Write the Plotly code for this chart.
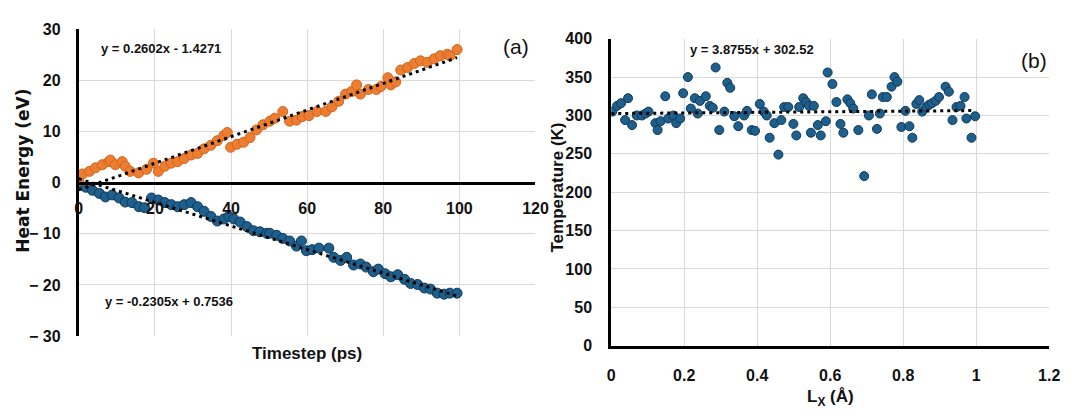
import plotly.graph_objects as go

# ---------------- data: panel (a) ----------------
orange_x = [0, 1, 2.8, 4.4, 6.2, 7.9, 8.3, 9.6, 11.4, 12.2, 13.5, 15.7, 17.8, 19.6, 20.9, 22.6, 24.3, 26,
            27.7, 29.5, 31.2, 32.9, 34.7, 36.4, 38.1, 39, 39.9, 41.6, 43.3, 45, 46.7, 48.4, 50.2, 51.5,
            53.6, 55.4, 57.2, 58.7, 60.5, 62.6, 64.9, 66.5, 68.3, 70.1, 71.7, 73, 74, 76.1, 78.2, 79.4,
            81.2, 82, 83.3, 84.6, 86.4, 88.2, 89.8, 91.6, 93.4, 95, 96.8, 97.5, 99.4]
orange_y = [0.4, 1.7, 2.2, 2.9, 3.5, 4.1, 4.4, 3.5, 4.1, 3.2, 2.2, 1.9, 2.6, 3.8, 2.2, 3.2, 3.8, 4.1,
            4.7, 5.4, 5.7, 6.6, 7.3, 8.2, 9.2, 9.8, 6.9, 7.5, 7.9, 8.8, 10.3, 11.3, 12, 12.6,
            13.9, 12, 12.2, 12.9, 13.1, 13.9, 13.9, 14.8, 15.9, 17.3, 17.8, 19.1, 17.3, 18.2, 18.2, 18.8,
            20.5, 19.1, 19.7, 22, 22.5, 23.3, 23.8, 23.5, 24.2, 24.8, 25.1, 24.8, 26]

blue_x = [0, 1.8, 3.6, 5.4, 7, 8.8, 10.6, 12.2, 14, 15.8, 17.3, 19.1, 20.9, 22.6, 24.3, 26, 27.7, 29.5,
          31.2, 32.9, 34.7, 36.4, 38.1, 39.4, 40.7, 42.4, 44.2, 45.9, 47.6, 49.4, 50.2, 52, 53.6, 55.4,
          57.2, 58.5, 59.8, 61.3, 63.1, 65.7, 67, 68.8, 70.4, 72.2, 74, 75.5, 77.4, 78.7, 80.5, 82,
          83.8, 85.6, 87.2, 89, 90.8, 92.4, 94.2, 96, 97.5, 99.4]
blue_y = [0, -0.9, -1.5, -2.1, -2.8, -2.4, -3, -3.8, -3.9, -4.7, -4.9, -3, -3.4, -3.9, -4.3, -4.7, -4.3, -3.9,
          -4.7, -5.6, -6.6, -7.5, -7.1, -6.6, -7.1, -7.7, -8.6, -9.4, -9.6, -9.9, -9.9, -10.3, -10.9, -11.4,
          -12.4, -11.4, -13.3, -13.1, -12.8, -12.8, -14.6, -15.2, -14.6, -16.1, -15.9, -16.5, -17.4, -16.9, -17.8, -18.4,
          -18, -18.9, -19.7, -19.9, -20.6, -20.8, -21.6, -21.8, -21.6, -21.6]

orange_fit = (0.2602, -1.4271)
blue_fit = (-0.2305, 0.7536)
fit_a_range = [0, 99.4]

a_xticks = [0, 20, 40, 60, 80, 100, 120]
a_yticks = [-30, -20, -10, 0, 10, 20, 30]
a_ytext = ["\u2212 30", "\u2212 20", "\u2212 10", "0", "10", "20", "30"]

# ---------------- data: panel (b) ----------------
lx = [0.003, 0.016, 0.027, 0.046, 0.038, 0.057, 0.07, 0.084, 0.094, 0.102, 0.121, 0.127, 0.135, 0.148,
      0.156, 0.17, 0.178, 0.189, 0.197, 0.21, 0.218, 0.229, 0.237, 0.243, 0.259, 0.27, 0.278, 0.286,
      0.296, 0.31, 0.318, 0.326, 0.337, 0.348, 0.364, 0.372, 0.385, 0.394, 0.407, 0.418, 0.426, 0.434,
      0.447, 0.458, 0.466, 0.474, 0.485, 0.499, 0.507, 0.515, 0.526, 0.534, 0.542, 0.547, 0.555, 0.566,
      0.574, 0.588, 0.593, 0.606, 0.617, 0.628, 0.636, 0.647, 0.655, 0.663, 0.677, 0.693, 0.706, 0.714,
      0.728, 0.736, 0.744, 0.755, 0.768, 0.776, 0.784, 0.795, 0.806, 0.817, 0.825, 0.836, 0.844, 0.852,
      0.863, 0.871, 0.879, 0.889, 0.898, 0.916, 0.925, 0.935, 0.946, 0.957, 0.968, 0.973, 0.987, 0.997]
temp = [305, 312.5, 316, 322.5, 294, 287.5, 300, 300, 302.5, 305, 290, 281, 292.5, 325,
        296, 300, 290, 296, 329, 350, 309, 322.5, 302.5, 319, 325, 312.5, 310, 362.5,
        281, 305, 342.5, 336, 299, 286, 300, 306, 281, 280, 315, 305, 300, 271,
        290, 249, 294, 311, 311, 289, 274, 311, 322.5, 317.5, 312.5, 277.5, 312.5, 287.5,
        274, 292.5, 356, 341, 317.5, 289, 277.5, 321, 316, 309, 281, 221, 300, 327.5,
        282.5, 302.5, 324, 324, 337.5, 350, 344, 285, 306, 286, 271, 315, 320, 305,
        311, 314, 316, 319, 324, 337.5, 331, 294, 311, 312.5, 324, 296, 271, 299]

temp_fit = (3.8755, 302.52)
fit_b_range = [0, 0.99]

b_xticks = [0, 0.2, 0.4, 0.6, 0.8, 1.0, 1.2]
b_xtext = ["0", "0.2", "0.4", "0.6", "0.8", "1", "1.2"]
b_yticks = [0, 50, 100, 150, 200, 250, 300, 350, 400]

# ---------------- styling ----------------
W, H = 1076, 420
SANS = "Liberation Sans, Arial, sans-serif"
ORANGE, ORANGE_EDGE = "#ED7D31", "#D0651E"
BLUE, BLUE_EDGE = "#1F5F8B", "#0E3A5C"
GRID = "#D9D9D9"


def px(xp):
    return xp / W


def py(yp):
    return 1 - yp / H


a_dom_x = [px(76), px(540)]
a_dom_y = [py(342), py(22)]
b_dom_x = [px(617), px(1062)]
b_dom_y = [py(352), py(32)]

fig = go.Figure()

# panel (a)
fig.add_trace(go.Scatter(x=blue_x, y=blue_y, mode="markers", xaxis="x", yaxis="y",
                         marker=dict(size=10, color=BLUE, line=dict(color=BLUE_EDGE, width=1)),
                         showlegend=False))
fig.add_trace(go.Scatter(x=orange_x, y=orange_y, mode="markers", xaxis="x", yaxis="y",
                         marker=dict(size=10, color=ORANGE, line=dict(color=ORANGE_EDGE, width=1)),
                         showlegend=False))
for m, c in (orange_fit, blue_fit):
    fig.add_trace(go.Scatter(x=fit_a_range, y=[m * v + c for v in fit_a_range], mode="lines",
                             xaxis="x", yaxis="y",
                             line=dict(color="black", width=3, dash="3px,4px"), showlegend=False))

# panel (b)
fig.add_trace(go.Scatter(x=lx, y=temp, mode="markers", xaxis="x2", yaxis="y2",
                         marker=dict(size=9, color=BLUE, line=dict(color=BLUE_EDGE, width=1)),
                         showlegend=False))
m, c = temp_fit
fig.add_trace(go.Scatter(x=fit_b_range, y=[m * v + c for v in fit_b_range], mode="lines",
                         xaxis="x2", yaxis="y2",
                         line=dict(color="black", width=3, dash="3px,4px"), showlegend=False))

tickfont = dict(family=SANS, size=16, color="#111111", weight="bold")

fig.update_layout(
    width=W, height=H,
    margin=dict(l=0, r=0, t=0, b=0),
    paper_bgcolor="white", plot_bgcolor="white",
    xaxis=dict(domain=a_dom_x, range=[0, 120], tickvals=a_xticks, anchor="free",
               position=(a_dom_y[0] + a_dom_y[1]) / 2,
               showgrid=True, gridcolor=GRID, gridwidth=1, zeroline=False,
               showline=True, linecolor="black", linewidth=3, ticks="",
               ticklabelstandoff=10, tickfont=tickfont),
    yaxis=dict(domain=a_dom_y, range=[-30, 30], tickvals=a_yticks, ticktext=a_ytext, anchor="x",
               showgrid=True, gridcolor=GRID, gridwidth=1, zeroline=False,
               showline=True, linecolor="black", linewidth=3, ticks="",
               ticklabelstandoff=12, tickfont=tickfont),
    xaxis2=dict(domain=b_dom_x, range=[0, 1.2], tickvals=b_xticks, ticktext=b_xtext, anchor="y2",
                showgrid=True, gridcolor=GRID, gridwidth=1, zeroline=False,
                showline=True, linecolor="black", linewidth=3, ticks="",
                ticklabelstandoff=13, tickfont=tickfont),
    yaxis2=dict(domain=b_dom_y, range=[0, 400], tickvals=b_yticks, anchor="x2",
                showgrid=True, gridcolor=GRID, gridwidth=1, zeroline=False,
                showline=True, linecolor="black", linewidth=3, ticks="",
                ticklabelstandoff=13, tickfont=tickfont),
)


def note(text, xp, yp, size, family=SANS, weight="bold", angle=0):
    fig.add_annotation(text=text, x=px(xp), y=py(yp), xref="paper", yref="paper",
                       xanchor="center", yanchor="middle", showarrow=False, textangle=angle,
                       font=dict(family=family, size=size, color="#111111", weight=weight))


note("y = 0.2602x - 1.4271", 160, 42, 13)
note("y = -0.2305x + 0.7536", 168, 306, 13)
note("y = 3.8755x + 302.52", 760, 43, 13)
note("(a)", 520, 40, 21, weight="normal")
note("(b)", 1047, 55, 21, weight="normal")
note("Timestep (ps)", 308, 360, 17)
note("L<sub>X</sub> (Å)", 840, 406, 17)
note("Heat Energy (eV)", 19, 170, 17, family="DejaVu Sans, Verdana, sans-serif", angle=-90)
note("Temperature (K)", 562, 187, 17, angle=-90)

fig.write_html("out.html")
